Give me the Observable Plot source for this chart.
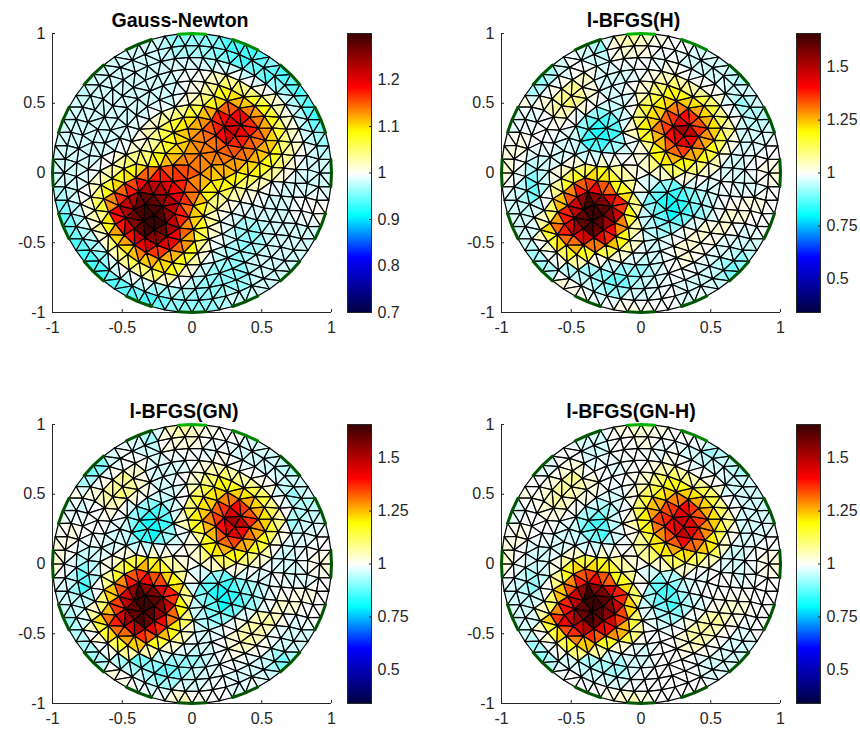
<!DOCTYPE html>
<html><head><meta charset="utf-8">
<script src="https://cdn.jsdelivr.net/npm/d3@7"></script>
<script src="https://cdn.jsdelivr.net/npm/@observablehq/plot@0.6"></script>
<style>html,body{margin:0;background:#fff}#c{position:relative;width:860px;height:735px;overflow:hidden}#c svg{position:absolute;background:transparent}</style>
</head><body><div id="c"></div>
<script>
const titles = ["Gauss-Newton","l-BFGS(H)","l-BFGS(GN)","l-BFGS(GN-H)"];
const titleShift = [-12,-7.5,-8,-10];
const ranges = [[0.7,1.3],[0.341,1.659],[0.341,1.659],[0.341,1.659]];
const barTicks = [[0.7,0.8,0.9,1,1.1,1.2],[0.5,0.75,1,1.25,1.5],[0.5,0.75,1,1.25,1.5],[0.5,0.75,1,1.25,1.5]];
const axisTicks = [-1,-0.5,0,0.5,1];
const ringRadii  = [1,0.915,0.83,0.745,0.66,0.575,0.49,0.405,0.32,0.235,0.15,0.06];
const ringCounts = [64,58,52,47,41,36,30,25,19,14,8,3];
const ringPhases = [0,0.5,0.25,0.5,0.1,0.4,0.2,0.6,0.3,0.1,0.5,0.2];
const electrodes = d3.range(16);
const electrodeColors = ["#00b000","#008400","#005400"];
const levelKey = {d:-.3,c:-.22,b:-.13,a:-.05,0:0,1:.06,2:.16,3:.3,4:.38,5:.46,6:.55,7:.65,8:.76,9:.88,A:1};
const stops = [-1,-.6,-.3,0,.3,.62,1];
const stopColors = ["#000040","#0000ff","#00ffff","#ffffff","#ffff00","#ff0000","#3a0000"];
// rows from y=1.0 to y=-1.0, columns from x=-1.0 to x=1.0
const gaussNewton = [
"aaaaaaaaab b bbccaaaaaa","aaaaaaaaab b bbcccaaaaa","aaaaaaaaaa a abbccbbbaa","aaaaaaaaaa 0 011abccbaa",
"bbbaaaaaaa 0 12321abcca","bbaaaaaaaa 1 2354320bcc","aaaaaaaa12 3 4677531acc","aaaaaaa123 4 56876420bb",
"aaaaaa0123 4 55665421ab","aaaaa12234 5 55554320aa","aaaa123566 6 5443321aaa","baa0246887 6 433210aaaa",
"cba1368A98 6 42100aa000","ccb1279AA8 5 310aaaa001","ccba258AA8 5 31abbaaaaa","cccb035887 5 20abbaaaaa",
"ccccb13554 3 1abbaaaaaa","ccccca1233 1 abbbaaaaaa","ccccccbaaa a bbbbaaaaaa","cccccccccb b bbaaaaaaaa",
"cccccccbbb b bbbaaaaaaa"];
const lbfgsH = [
"aaaaabbaa1 2 1100000000","aaaaa0aab1 1 1000a0000a","aaabba0aa0 0 0a0aaaaaaa","aabcba01aa a 0110aaabaa",
"aaaba121aa 0 123210aaaa","aa1012210a a 234432abaa","aaaa010bcb 0 3467531aba","aa0000acdc 1 3579642aaa",
"a0100aaccb a 1367531aa0","110aaa0a00 0 134432aa00","210ba12332 1 012210aa01","10aca25763 2 abcbaa0aa0",
"0aab047A97 3 bcdcba0010","0aaa158AA8 3 abdcba1100","01aa368A96 2 abb0111a00","a1aa145664 2 aa0110aaaa",
"aabba13211 0 aa010aabaa","aaabbabbbb b ba00aacbaa","aaaaa10abc b aa0aaaaaaa","00000010aa 0 a00a000000",
"0000000011 1 1000000000"];
const lbfgsGN = [
"aaaaaabaa1 2 1100000000","aaaaa0aab1 1 1000a0000a","aaabba0aa0 0 0a0aaaaaaa","aabcca01aa a 0110aaabaa",
"aaaba121aa 0 123210aaaa","aa1012210a a 234432abaa","aaaa010bcb 0 3467531aba","aa0000acdc 1 3579642baa",
"a0100aacdb a 1367531aa0","110aaa0a00 0 134432aa00","210ba12432 1 012210aa01","20aca25764 2 abcbaa0aa0",
"1aac047A97 3 bcdcba0010","0aaa148AA8 3 abdcba1100","0aba368A96 3 abb0121a00","0aba145764 2 aa0121aaaa",
"aabba13321 0 aa0110aaaa","aaabbabcbb b ba00aacbaa","aaaaa10abc b aa0aaaaaaa","00000010aa 0 a00a000000",
"0000000011 2 1000000000"];
const lbfgsGNH = [
"0000000001 1 1100000000","000000aaa0 0 1000000000","aaaaa00aa0 0 0a0aabaaaa","aaaaa01a0a 0 0110aaabaa",
"aaa0012100 0 123210aaaa","aa1012110a 0 234432aaaa","aaa0110aba 0 3567531aaa","aa0000acca 1 3678642aaa",
"a0100aabca 0 2468631aa0","110aaa0a00 0 234543aa00","210aa13332 1 012210aa01","10aba25763 2 abbaa00a00",
"0aab047A97 3 acca000000","0aaa158AA8 4 abcba01100","01aa378A97 3 0ab0121000","a1aa146765 3 0001210a00",
"aabba13321 0 a00110aaaa","aabcbaabbb a a000aaaaaa","aaaaa00aab a 00000a0000","0000000000 0 0000000000",
"0000000011 2 1000000000"];
const grids = [gaussNewton,lbfgsH,lbfgsGN,lbfgsGNH];
const gridShift = [0.04,0.08,0.08,0.08];
const panelX = [51.7,500.5,51.7,500.5];
const panelY = [32.7,32.7,423.7,423.7];
const size = 279;

const nodes = [];
ringCounts.forEach((n,r)=>{for(let i=0;i<n;i++){const a=Math.PI/2+2*Math.PI*(i+ringPhases[r])/n;nodes.push([ringRadii[r]*Math.cos(a),ringRadii[r]*Math.sin(a)]);}});
const tri = d3.Delaunay.from(nodes).triangles;
const electrodePts = electrodes.flatMap(e=>[-1,0,1].map(k=>{
  const a=Math.PI/2-(e*22.5+k*5.625)*Math.PI/180;
  return {e,x:Math.cos(a),y:Math.sin(a)};
}));
const textColor="#262626";

function colorScale(rng){
  const mid=(rng[0]+rng[1])/2, half=(rng[1]-rng[0])/2;
  return {type:"linear",domain:stops.map(t=>mid+t*half),range:stopColors,clamp:true};
}
function cellRows(grid,rng,shift){
  const half=(rng[1]-rng[0])/2, mid=(rng[0]+rng[1])/2, rows=grid.map(r=>r.replace(/ /g,"")), out=[];
  const lev=(i,j)=>levelKey[rows[Math.max(0,Math.min(20,i))][Math.max(0,Math.min(20,j))]];
  for(let t=0;t<tri.length;t+=3){
    const p=[nodes[tri[t]],nodes[tri[t+1]],nodes[tri[t+2]]];
    const cx=d3.mean(p,d=>d[0]), cy=d3.mean(p,d=>d[1]);
    const fi=(1-cy)*10, fj=(cx+shift+1)*10, i=Math.floor(fi), j=Math.floor(fj), u=fi-i, w=fj-j;
    const l=(1-u)*((1-w)*lev(i,j)+w*lev(i,j+1))+u*((1-w)*lev(i+1,j)+w*lev(i+1,j+1));
    const v=mid+half*l;
    p.forEach(d=>out.push({id:t,x:d[0],y:d[1],v}));
  }
  return out;
}
const host=document.getElementById("c");
titles.forEach((title,k)=>{
  const rng=ranges[k], mT=33, mL=52;
  const left=Math.round(panelX[k]-mL), top=Math.round(panelY[k]-mT);
  const fig=Plot.plot({
    width:mL+size+10,height:mT+size+32,marginLeft:mL,marginRight:10,marginTop:mT,marginBottom:32,
    style:{fontFamily:"'Liberation Sans',Arial,sans-serif",color:textColor,background:"transparent"},
    x:{domain:[-1,1],label:null},y:{domain:[-1,1],label:null},
    color:colorScale(rng),
    marks:[
      Plot.ruleX([-1],{stroke:textColor,strokeWidth:1}),
      Plot.ruleY([-1],{stroke:textColor,strokeWidth:1}),
      Plot.axisX(axisTicks,{tickSize:-3,tickPadding:12,tickFormat:String,fontSize:16,label:null}),
      Plot.axisY(axisTicks,{tickSize:-3,tickPadding:10,tickFormat:String,fontSize:16,label:null}),
      Plot.line(cellRows(grids[k],rng,gridShift[k]),{x:"x",y:"y",z:"id",fill:"v",stroke:"#000",strokeWidth:1.25,curve:"linear-closed"}),
      Plot.line(electrodePts.filter(d=>d.e>1),{x:"x",y:"y",z:"e",stroke:electrodeColors[2],strokeWidth:3}),
      Plot.line(electrodePts.filter(d=>d.e==1),{x:"x",y:"y",stroke:electrodeColors[1],strokeWidth:3}),
      Plot.line(electrodePts.filter(d=>d.e==0),{x:"x",y:"y",stroke:electrodeColors[0],strokeWidth:3}),
      Plot.text([title],{frameAnchor:"top",dx:titleShift[k],dy:-7,lineAnchor:"bottom",fontWeight:"bold",fontSize:19.6,fill:"#000"})
    ]
  });
  fig.style.left=left+"px";fig.style.top=top+"px";host.appendChild(fig);

  const steps=d3.range(128).map(i=>rng[0]+(i+.5)*(rng[1]-rng[0])/128), dv=(rng[1]-rng[0])/128;
  const bar=Plot.plot({
    width:24+46,height:mT+size+32,marginLeft:0,marginRight:46,marginTop:mT,marginBottom:32,
    style:{fontFamily:"'Liberation Sans',Arial,sans-serif",color:textColor,background:"transparent"},
    x:{domain:[0,1],axis:null},y:{domain:rng,label:null},
    color:colorScale(rng),
    marks:[
      Plot.rect(steps,{x1:0,x2:1,y1:d=>Math.max(rng[0],d-dv),y2:d=>Math.min(rng[1],d+dv),fill:d=>d}),
      Plot.frame({stroke:textColor,strokeWidth:1}),
      Plot.axisY(barTicks[k],{anchor:"right",tickSize:-3,tickPadding:9,tickFormat:String,fontSize:16,label:null})
    ]
  });
  bar.style.left=(left+347)+"px";bar.style.top=top+"px";host.appendChild(bar);
});
</script></body></html>
